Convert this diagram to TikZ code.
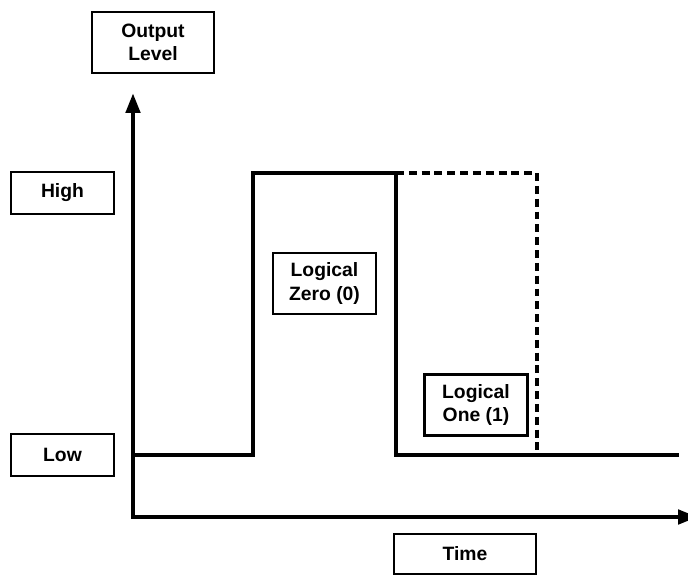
\documentclass[tikz,border=0pt]{standalone}
\usepackage{fontspec}
\setmainfont{Liberation Sans}
\usetikzlibrary{arrows.meta,positioning}
\tikzset{
	box/.style={rectangle,draw=black,line width=1.5pt,inner sep=0pt,minimum width=2.06cm,minimum height=0.84cm,align=center,font=\fontsize{11}{13.2}\selectfont\bfseries},
	tallbox/.style={box,minimum height=1.22cm},
	axis/.style={line width=2.6pt,line join=miter,{Triangle[length=0.4cm,width=0.28cm]}-{Triangle[length=0.4cm,width=0.28cm]}},
	wave/.style={line width=2.1pt,line join=miter},
	altwave/.style={wave,dash pattern=on 4.5pt off 2.8pt}
}

\begin{document}
\begin{tikzpicture}[x=0.02cm,y=-0.02cm]
		\useasboundingbox (0,0) rectangle (688,577);
		
		\coordinate (origin) at (133,517);
		\coordinate (ytip) at (133,93);
		\coordinate (xtip) at (698,517);
		
		\node[tallbox,minimum width=2.44cm] (level) at (153,42.5) {Output\\Level};
		\node[box] (high) at (62.5,193) {High};
		\node[box] (low) at (62.5,455) {Low};
		\node[tallbox] (zero) at (324.5,283.5) {Logical\\Zero (0)};
		\node[tallbox] (one) at (476,405) {Logical\\One (1)};
		\node[box,minimum width=2.84cm,minimum height=0.8cm] (time) at (465,554) {Time};
		
		\draw[axis] (ytip) -- (origin) -- (xtip);
		
		\draw[wave] (133,455) -- (253,455) -- (253,173) -- (396,173) -- (396,455) -- (679,455);
		\draw[altwave] (396,173) -- (537,173) -- (537,455);
\end{tikzpicture}
\end{document}
